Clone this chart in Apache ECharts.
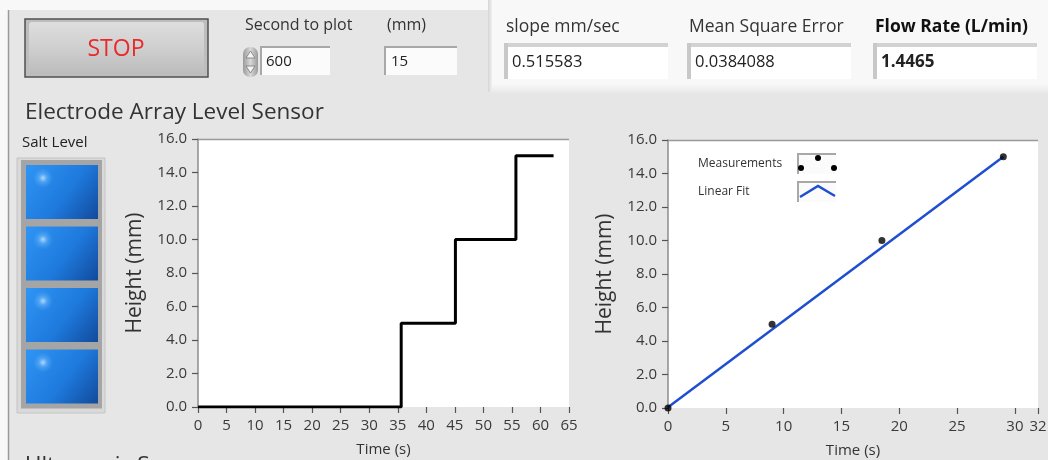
<!DOCTYPE html>
<html>
<head>
<meta charset="utf-8">
<script src="https://cdn.jsdelivr.net/npm/echarts@6/dist/echarts.min.js"></script>
<style>
html,body{margin:0;padding:0;background:#e6e6e6;}
#chart{width:1048px;height:460px;}
</style>
</head>
<body>
<div id="chart"></div>
<script>
// ---- data ----
const stepTime   = [0, 35.6, 45.1, 55.7, 62.3];
const stepHeight = [0, 5, 10, 15, 15];
const measTime   = [0, 9.0, 18.5, 29.0];
const measHeight = [0, 5, 10, 15];
const fitTime    = [0, 29.0];
const fitHeight  = [0.05, 15.0];
const leftTimeTicks  = [0, 5, 10, 15, 20, 25, 30, 35, 40, 45, 50, 55, 60, 65];
const rightTimeTicks = [0, 5, 10, 15, 20, 25, 30, 32];
const heightTicks    = [0, 2, 4, 6, 8, 10, 12, 14, 16];
const secondsToPlot = '600';
const fillHeightMm  = '15';
const slopeValue    = '0.515583';
const mseValue      = '0.0384088';
const flowValue     = '1.4465';
const legendNames   = ['Measurements', 'Linear Fit'];

const FONT = '"Open Sans", "Noto Sans", sans-serif';
const chart = echarts.init(document.getElementById('chart'));

function pairs(xs, ys) { return xs.map((x, i) => [x, ys[i]]); }

function txt(x, y, s, size, opts) {
  opts = opts || {};
  return {type: 'text', x: x, y: y, silent: true, z: 10,
    style: {text: s, fill: opts.fill || '#333', font: (opts.weight || 'normal') + ' ' + size + 'px ' + FONT,
      textAlign: opts.align || 'left', textVerticalAlign: opts.va || 'middle'}};
}
function insetBox(x, y, w, h, band) {
  return [
    {type: 'rect', shape: {x: x, y: y, width: w, height: h}, style: {fill: '#ffffff'}, z: 5, silent: true},
    {type: 'rect', shape: {x: x, y: y, width: w, height: band}, style: {fill: '#d2d2d2'}, z: 6, silent: true},
    {type: 'rect', shape: {x: x, y: y, width: band, height: h}, style: {fill: '#c8c8c8'}, z: 6, silent: true}
  ];
}
function smallBox(x, y, w, h) {
  return [
    {type: 'rect', shape: {x: x, y: y, width: w, height: h}, style: {fill: '#fbfbfb'}, z: 5, silent: true},
    {type: 'polyline', shape: {points: [[x, y + h], [x, y], [x + w, y]]}, style: {stroke: '#a8a8a8', lineWidth: 2, fill: null}, z: 6, silent: true}
  ];
}

const GRIDS = [
  {left: 198, top: 139, width: 371, height: 268},
  {left: 668, top: 140, width: 370, height: 268}
];

const g = [];
// white surroundings (canvas background is the gray panel colour)
g.push({type: 'rect', shape: {x: 0, y: 0, width: 490, height: 10}, style: {fill: '#f8f8f8'}, z: 0, silent: true});
g.push({type: 'rect', shape: {x: 0, y: 0, width: 8, height: 460}, style: {fill: '#f8f8f8'}, z: 0, silent: true});
g.push({type: 'rect', shape: {x: 490, y: 0, width: 558, height: 85}, style: {fill: '#f8f8f8'}, z: 0, silent: true});
g.push({type: 'rect', shape: {x: 490, y: 84, width: 558, height: 10},
  style: {fill: new echarts.graphic.LinearGradient(0, 0, 0, 1, [{offset: 0, color: '#f8f8f8'}, {offset: 1, color: '#e6e6e6'}])}, z: 0, silent: true});
g.push({type: 'rect', shape: {x: 488, y: 0, width: 4, height: 92},
  style: {fill: new echarts.graphic.LinearGradient(0, 0, 1, 0, [{offset: 0, color: '#d6d6d6'}, {offset: 1, color: '#f0f0f0'}])}, z: 0, silent: true});
g.push({type: 'line', shape: {x1: 8.5, y1: 10, x2: 8.5, y2: 460}, style: {stroke: '#9a9a9a', lineWidth: 1.5}, z: 1, silent: true});
// plot area backgrounds (white)
GRIDS.forEach(r => g.push({type: 'rect', shape: {x: r.left, y: r.top, width: r.width, height: r.height},
  style: {fill: '#ffffff'}, z: 1, silent: true}));

// STOP button
g.push({type: 'rect', shape: {x: 25, y: 19, width: 183, height: 58},
  style: {fill: '#bdbdbd', stroke: '#505050', lineWidth: 1.5}, z: 3, silent: true});
g.push({type: 'rect', shape: {x: 29, y: 22, width: 175, height: 52, r: 3},
  style: {fill: new echarts.graphic.LinearGradient(0, 0, 0, 1, [{offset: 0, color: '#dedede'}, {offset: 0.5, color: '#cfcfcf'}, {offset: 1, color: '#bcbcbc'}])}, z: 4, silent: true});
g.push(txt(116, 49, 'STOP', 23, {fill: '#ea2a2a', align: 'center'}));

// Second to plot
g.push(txt(245, 25, 'Second to plot', 16));
g.push({type: 'rect', shape: {x: 243, y: 47, width: 15, height: 30, r: 7},
  style: {fill: new echarts.graphic.LinearGradient(0, 0, 1, 0, [{offset: 0, color: '#9a9a9a'}, {offset: 0.5, color: '#d8d8d8'}, {offset: 1, color: '#9a9a9a'}])}, z: 5, silent: true});
g.push({type: 'polygon', shape: {points: [[250.5, 51], [246, 58], [255, 58]]}, style: {fill: '#f4f4f4', stroke: '#777', lineWidth: 0.8}, z: 6, silent: true});
g.push({type: 'polygon', shape: {points: [[250.5, 73], [246, 66], [255, 66]]}, style: {fill: '#f4f4f4', stroke: '#777', lineWidth: 0.8}, z: 6, silent: true});
smallBox(261, 47, 69, 28).forEach(e => g.push(e));
g.push(txt(266, 62, secondsToPlot, 15, {fill: '#222'}));

g.push(txt(387, 25, '(mm)', 16));
smallBox(385, 47, 72, 28).forEach(e => g.push(e));
g.push(txt(391, 62, fillHeightMm, 15, {fill: '#222'}));

// top-right indicators
[[506, 504, 'slope mm/sec', slopeValue, 'normal'],
 [689, 687, 'Mean Square Error', mseValue, 'normal'],
 [875, 873, 'Flow Rate (L/min)', flowValue, 'bold']].forEach(function (d) {
  g.push(txt(d[0], 27, d[2], 17.5, {weight: d[4], fill: d[4] === 'bold' ? '#111' : '#333'}));
  insetBox(d[1], 43, 164, 36, 4).forEach(e => g.push(e));
  g.push(txt(d[1] + 8, 62, d[3], d[4] === 'bold' ? 17 : 16.5, {weight: d[4], fill: '#222'}));
});

// section title
g.push(txt(25, 113, 'Electrode Array Level Sensor', 22.5, {fill: '#333'}));
g.push(txt(22, 143, 'Salt Level', 15, {fill: '#222', weight: 500}));
g.push({type: 'text', x: 25, y: 454, silent: true, z: 10,
  style: {text: 'Ultrasonic Sensor', fill: '#333', font: 'normal 22.5px ' + FONT, textVerticalAlign: 'top'}});

// LED column
g.push({type: 'rect', shape: {x: 17, y: 158, width: 88, height: 255},
  style: {fill: '#d9d9d9', stroke: '#c4c4c4', lineWidth: 1}, z: 3, silent: true});
for (let i = 0; i < 4; i++) {
  const y0 = 165 + i * 61.5;
  g.push({type: 'rect', shape: {x: 21, y: y0 - 5, width: 81, height: 64},
    style: {fill: '#a5a5a5'}, z: 4, silent: true});
  g.push({type: 'rect', shape: {x: 26, y: y0, width: 72, height: 54},
    style: {fill: new echarts.graphic.LinearGradient(0, 0, 1, 1, [{offset: 0, color: '#2f95f4'}, {offset: 0.55, color: '#1e7add'}, {offset: 1, color: '#124a9c'}])}, z: 5, silent: true});
  g.push({type: 'ellipse', shape: {cx: 43, cy: y0 + 13, rx: 20, ry: 10},
    style: {fill: new echarts.graphic.RadialGradient(0.5, 0.5, 0.5, [{offset: 0, color: 'rgba(205,235,255,0.85)'}, {offset: 0.45, color: 'rgba(130,195,255,0.4)'}, {offset: 1, color: 'rgba(100,180,255,0)'}])}, z: 6, silent: true});
}

// plot top borders
g.push({type: 'line', shape: {x1: 198, y1: 139.5, x2: 569, y2: 139.5}, style: {stroke: '#9a9a9a', lineWidth: 1.5}, z: 20, silent: true});
g.push({type: 'line', shape: {x1: 668, y1: 140.5, x2: 1038, y2: 140.5}, style: {stroke: '#9a9a9a', lineWidth: 1.5}, z: 20, silent: true});

// right plot legend
g.push(txt(698, 164, legendNames[0], 12, {fill: '#333'}));
g.push(txt(698, 192, legendNames[1], 12, {fill: '#333'}));
smallBox(798, 154, 38, 20).forEach(e => { e.z = 21; g.push(e); });
smallBox(798, 182, 38, 20).forEach(e => { e.z = 21; g.push(e); });
[[801, 168], [818, 158], [834, 168]].forEach(p => g.push({type: 'circle', shape: {cx: p[0], cy: p[1], r: 3}, style: {fill: '#000'}, z: 23, silent: true}));
g.push({type: 'polyline', shape: {points: [[800, 197], [818, 186], [835, 196]]}, style: {stroke: '#1f4fd0', lineWidth: 2.5, fill: null}, z: 23, silent: true});

const axisLabelStyle = {color: '#3a3a3a', fontSize: 15, fontFamily: FONT, margin: 11};
const tickStyle = {show: true, length: 6, lineStyle: {color: '#555', width: 1.2}};

function yAx(gi) {
  return {type: 'value', gridIndex: gi, z: 8, min: heightTicks[0], max: heightTicks[heightTicks.length - 1],
    interval: heightTicks[1] - heightTicks[0],
    axisLine: {show: true, lineStyle: {color: '#8c8c8c', width: 1.5}},
    axisTick: tickStyle, splitLine: {show: false},
    axisLabel: Object.assign({}, axisLabelStyle, {formatter: v => v.toFixed(1)}),
    name: 'Height (mm)', nameLocation: 'middle', nameGap: 52,
    nameTextStyle: {fontSize: 21, color: '#333', fontFamily: FONT}};
}
function xAx(gi, ticks) {
  return {type: 'value', gridIndex: gi, z: 8, min: ticks[0], max: ticks[ticks.length - 1], interval: ticks[1] - ticks[0],
    axisLine: {show: false}, axisTick: tickStyle, splitLine: {show: false},
    axisLabel: axisLabelStyle,
    name: 'Time (s)', nameLocation: 'middle', nameGap: 35,
    nameTextStyle: {fontSize: 15, color: '#333', fontFamily: FONT}};
}

chart.setOption({
  backgroundColor: '#e6e6e6',
  animation: false,
  grid: GRIDS.map(r => Object.assign({show: true, backgroundColor: '#ffffff', borderWidth: 0,
    containLabel: false, outerBoundsMode: 'none'}, r)),
  xAxis: [xAx(0, leftTimeTicks), xAx(1, rightTimeTicks)],
  yAxis: [yAx(0), yAx(1)],
  series: [
    {type: 'line', xAxisIndex: 0, yAxisIndex: 0, step: 'end', showSymbol: false, z: 10,
      data: pairs(stepTime, stepHeight), lineStyle: {color: '#000', width: 3}},
    {type: 'line', xAxisIndex: 1, yAxisIndex: 1, showSymbol: false, z: 10,
      data: pairs(fitTime, fitHeight), lineStyle: {color: '#1f4fd0', width: 2.5}},
    {type: 'scatter', xAxisIndex: 1, yAxisIndex: 1, symbolSize: 7, clip: false, z: 12,
      data: pairs(measTime, measHeight), itemStyle: {color: '#000'}}
  ],
  graphic: g
});
</script>
</body>
</html>
